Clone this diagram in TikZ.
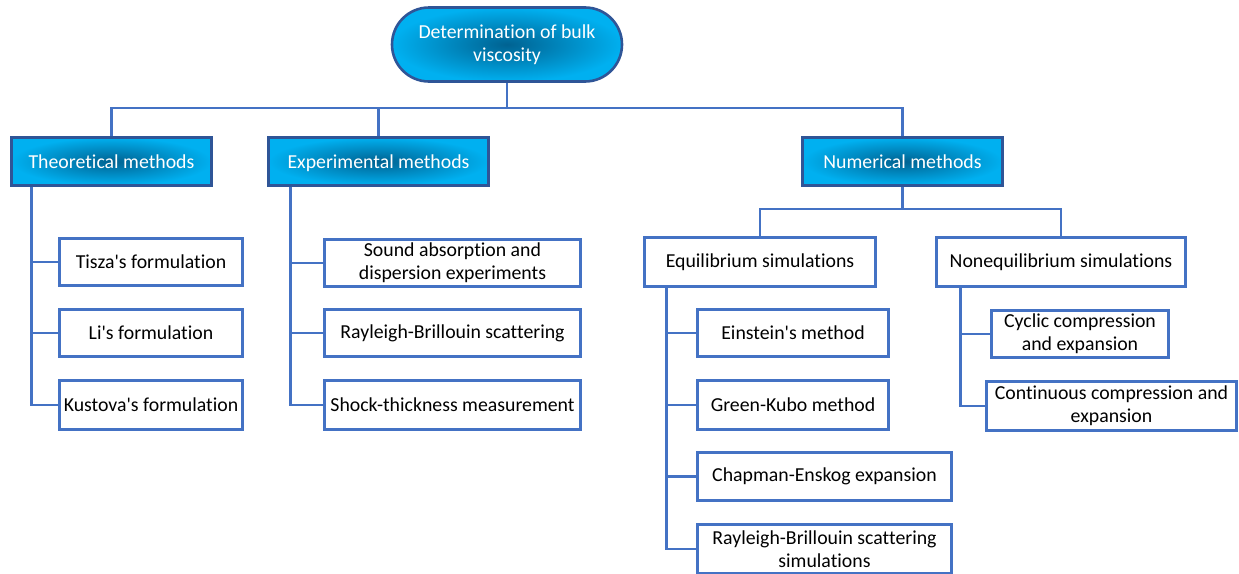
\documentclass[tikz,border=0pt]{standalone}
\usepackage{fontspec}
\setmainfont{Carlito}[Ligatures={NoCommon}]
\usetikzlibrary{calc}
\definecolor{lineblue}{HTML}{4472C4}
\definecolor{darkborder}{HTML}{2F5597}
\definecolor{outerc}{RGB}{0,176,240}
\definecolor{innerc}{RGB}{0,98,145}
\newcommand{\q}{\textquotesingle}
\tikzset{
  conn/.style={draw=lineblue, line width=2.6pt},
  whitebox/.style={draw=lineblue, line width=2.6pt, fill=white, inner sep=0pt,
    align=center, font=\fontsize{19.8}{23}\selectfont, text=black},
  headbox/.style={draw=darkborder, line width=2.6pt, inner sep=0pt,
    shading=radial, inner color=innerc, outer color=outerc,
    align=center, font=\fontsize{19.8}{23}\selectfont, text=white},
  onelinehead/.style={headbox, minimum height=48pt, text height=15.5pt, text depth=2.5pt},
}
\begin{document}
\begin{tikzpicture}[x=1pt,y=-1pt]
\useasboundingbox (0,0) rectangle (1239,573);
% top
\node[headbox, rounded corners=37pt, minimum width=230pt, minimum height=74pt] (top) at (507,44.5) {Determination of bulk\\viscosity};
% level 1
\node[onelinehead, minimum width=200pt] (th) at (111.5,161.5) {Theoretical methods};
\node[onelinehead, minimum width=220pt] (ex) at (378.5,161.5) {Experimental methods};
\node[onelinehead, minimum width=200pt] (nu) at (902.5,161.5) {Numerical methods};
% theoretical children
\node[whitebox, minimum width=183pt, minimum height=47pt] (t1) at (151,262) {Tisza\q s formulation};
\node[whitebox, minimum width=183pt, minimum height=47pt] (t2) at (151,333) {Li\q s formulation};
\node[whitebox, minimum width=183pt, minimum height=49pt] (t3) at (151,405) {Kustova\q s formulation};
% experimental children
\node[whitebox, minimum width=256pt, minimum height=47pt] (e1) at (452.5,263) {Sound absorption and\\dispersion experiments};
\node[whitebox, minimum width=256pt, minimum height=47pt] (e2) at (452.5,333) {Rayleigh-Brillouin scattering};
\node[whitebox, minimum width=256pt, minimum height=49pt] (e3) at (452.5,405) {Shock-thickness measurement};
% numerical children
\node[whitebox, minimum width=231pt, minimum height=49pt] (eq) at (760,262) {Equilibrium simulations};
\node[whitebox, minimum width=249pt, minimum height=49pt] (ne) at (1061,262) {Nonequilibrium simulations};
\node[whitebox, minimum width=191pt, minimum height=47pt] (q1) at (793,333) {Einstein\q s method};
\node[whitebox, minimum width=191pt, minimum height=49pt] (q2) at (793,405) {Green-Kubo method};
\node[whitebox, minimum width=254pt, minimum height=48pt] (q3) at (824.5,476.5) {Chapman-Enskog expansion};
\node[whitebox, minimum width=254pt, minimum height=49pt] (q4) at (824.5,549) {Rayleigh-Brillouin scattering\\simulations};
\node[whitebox, minimum width=177pt, minimum height=47pt] (n1) at (1080,334) {Cyclic compression\\and expansion};
\node[whitebox, minimum width=250pt, minimum height=49pt] (n2) at (1111.5,406) {Continuous compression and\\expansion};
% connectors: top level
\coordinate (bus) at (507,108);
\draw[conn] (top.south) -- (bus);
\draw[conn] (th.north) |- (nu.north |- bus) -- (nu.north);
\draw[conn] (ex.north) -- (ex.north |- bus);
% theoretical trunk
\coordinate (tt) at ($(th.south west)+(21,0)$);
\draw[conn] (tt) |- (t3.west);
\draw[conn] (t1.west) -- (t1.west -| tt);
\draw[conn] (t2.west) -- (t2.west -| tt);
% experimental trunk
\coordinate (et) at ($(ex.south west)+(23,0)$);
\draw[conn] (et) |- (e3.west);
\draw[conn] (e1.west) -- (e1.west -| et);
\draw[conn] (e2.west) -- (e2.west -| et);
% numerical bus
\coordinate (nb) at (902.5,209);
\draw[conn] (nu.south) -- (nb);
\draw[conn] (eq.north) |- (ne.north |- nb) -- (ne.north);
% equilibrium trunk
\coordinate (qt) at ($(eq.south west)+(23,0)$);
\draw[conn] (qt) |- (q4.west);
\draw[conn] (q1.west) -- (q1.west -| qt);
\draw[conn] (q2.west) -- (q2.west -| qt);
\draw[conn] (q3.west) -- (q3.west -| qt);
% nonequilibrium trunk
\coordinate (nt) at ($(ne.south west)+(25,0)$);
\draw[conn] (nt) |- (n2.west);
\draw[conn] (n1.west) -- (n1.west -| nt);
\end{tikzpicture}
\end{document}
